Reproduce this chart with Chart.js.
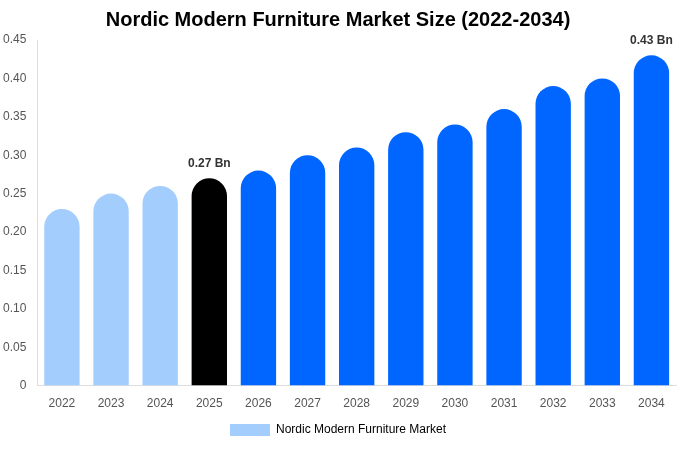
<!DOCTYPE html>
<html>
<head>
<meta charset="utf-8">
<script src="https://cdn.jsdelivr.net/npm/chart.js@4.4.0/dist/chart.umd.min.js"></script>
<style>
  body { margin: 0; background: #fff; }
  #wrap { width: 680px; height: 450px; }
</style>
</head>
<body>
<div id="wrap"><canvas id="chart"></canvas></div>
<script>
const years = ['2022','2023','2024','2025','2026','2027','2028','2029','2030','2031','2032','2033','2034'];
const marketSize = [0.23, 0.25, 0.26, 0.27, 0.28, 0.30, 0.31, 0.33, 0.34, 0.36, 0.39, 0.40, 0.43];
const labelled = { '2025': '0.27 Bn', '2034': '0.43 Bn' };

const barColors = years.map(y => {
  if (+y < 2025) return '#a3cdfd';
  if (y === '2025') return '#000000';
  return '#0066ff';
});

// labels above selected bars
const topLabels = {
  id: 'topLabels',
  afterDatasetsDraw(chart) {
    const ctx = chart.ctx;
    const meta = chart.getDatasetMeta(0);
    ctx.save();
    ctx.font = 'bold 12px Arial, "Liberation Sans"';
    ctx.fillStyle = '#333';
    ctx.textAlign = 'center';
    ctx.textBaseline = 'bottom';
    meta.data.forEach((bar, i) => {
      const txt = labelled[years[i]];
      if (txt) ctx.fillText(txt, bar.x, bar.y - 9);
    });
    ctx.restore();
  }
};

new Chart(document.getElementById('chart'), {
  type: 'bar',
  data: {
    labels: years,
    datasets: [{
      label: 'Nordic Modern Furniture Market',
      data: marketSize,
      backgroundColor: barColors,
      borderRadius: { topLeft: 18, topRight: 18 },
      borderSkipped: 'bottom',
      barPercentage: 0.72,
      categoryPercentage: 1
    }]
  },
  options: {
    responsive: true,
    maintainAspectRatio: false,
    animation: false,
    layout: { padding: { left: 0, right: 4, bottom: 4 } },
    plugins: {
      title: {
        display: true,
        text: 'Nordic Modern Furniture Market Size (2022-2034)',
        color: '#000',
        font: { family: 'Arial, "Liberation Sans"', size: 20, weight: 'bold' },
        padding: { top: 8, bottom: 8 }
      },
      legend: {
        position: 'bottom',
        labels: {
          boxWidth: 40, boxHeight: 12,
          color: '#555',
          font: { family: 'Arial, "Liberation Sans"', size: 12 },
          generateLabels: () => [{ text: 'Nordic Modern Furniture Market', fillStyle: '#a3cdfd', strokeStyle: '#a3cdfd', lineWidth: 0 }]
        }
      },
      tooltip: { enabled: false }
    },
    scales: {
      x: {
        grid: { display: false },
        border: { color: '#ddd' },
        ticks: { color: '#555', font: { family: 'Arial, "Liberation Sans"', size: 12 } }
      },
      y: {
        min: 0, max: 0.45,
        grid: { display: false },
        border: { color: '#ddd' },
        ticks: {
          stepSize: 0.05,
          color: '#555',
          font: { family: 'Arial, "Liberation Sans"', size: 12 },
          callback: v => v === 0 ? '0' : v.toFixed(2)
        }
      }
    }
  },
  plugins: [topLabels]
});
</script>
</body>
</html>
